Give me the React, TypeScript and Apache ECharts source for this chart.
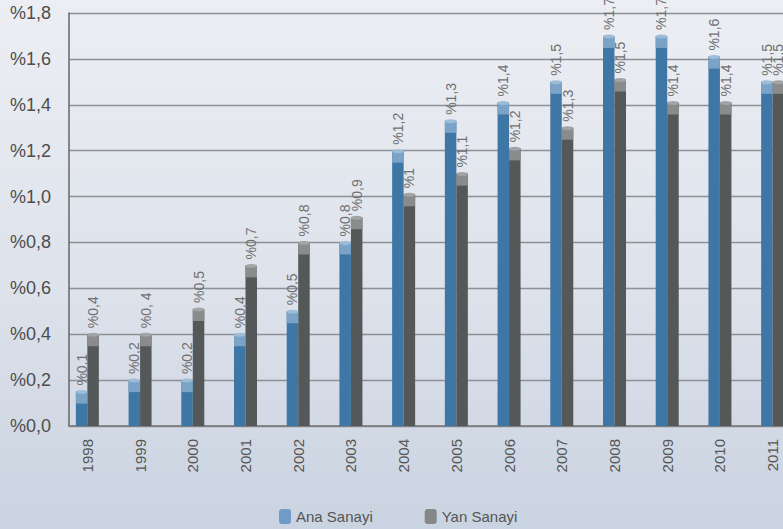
import React, { useEffect, useRef } from "react";
import * as echarts from "echarts";

const years = ["1998", "1999", "2000", "2001", "2002", "2003", "2004", "2005", "2006", "2007", "2008", "2009", "2010", "2011"];
const anaValues = [0.15, 0.2, 0.2, 0.4, 0.5, 0.8, 1.2, 1.33, 1.41, 1.5, 1.7, 1.7, 1.61, 1.5];
const yanValues = [0.4, 0.4, 0.51, 0.7, 0.8, 0.91, 1.01, 1.1, 1.21, 1.3, 1.51, 1.41, 1.41, 1.5];
const anaLabels = ["%0,1", "%0,2", "%0,2", "%0,4", "%0,5", "%0,8", "%1,2", "%1,3", "%1,4", "%1,5", "%1,7", "%1,7", "%1,6", "%1,5"];
const yanLabels = ["%0,4", "%0, 4", "%0,5", "%0,7", "%0,8", "%0,9", "%1", "%1,1", "%1,2", "%1,3", "%1,5", "%1,4", "%1,4", "%1,5"];
const yTicks = { min: 0, max: 1.8, interval: 0.2 };

const BAR_W = 11.5;
const FONT = "'Liberation Sans', Arial, sans-serif";

function capSeries(name: string, values: number[], side: number, capColor: string, topColor: string) {
  return {
    type: "custom",
    name: name + "_cap",
    xAxisIndex: 1,
    yAxisIndex: 1,
    z: 5,
    silent: true,
    data: values.map((v, i) => [i, v]),
    renderItem: (params: any, api: any) => {
      const top = api.coord([api.value(0), api.value(1)]);
      const base = api.coord([api.value(0), 0]);
      const x = side < 0 ? top[0] - BAR_W : top[0];
      const h = Math.min(12, base[1] - top[1]);
      return {
        type: "group",
        children: [
          { type: "rect", shape: { x: x, y: top[1], width: BAR_W, height: h }, style: { fill: capColor } },
          { type: "ellipse", shape: { cx: x + BAR_W / 2, cy: top[1] + 0.5, rx: BAR_W / 2, ry: 2 }, style: { fill: topColor } },
        ],
      };
    },
  };
}

export default function App() {
  const ref = useRef<HTMLDivElement>(null);
  useEffect(() => {
    if (!ref.current) return;
    const chart = echarts.init(ref.current, undefined, { renderer: "svg" });
    const labelBase = {
      show: true,
      position: "top",
      rotate: 90,
      align: "left",
      verticalAlign: "middle",
      distance: 6,
      fontSize: 14,
      color: "#707070",
      fontFamily: FONT,
    };
    chart.setOption({
      animation: false,
      grid: [
        { left: 69, right: 0, top: 13, bottom: 103, outerBoundsMode: "none", containLabel: false },
        { left: 61, width: 738, top: 13, bottom: 103, outerBoundsMode: "none", containLabel: false },
      ],
      legend: {
        left: 274,
        top: 504,
        itemWidth: 12,
        itemHeight: 15,
        itemGap: 52,
        icon: "roundRect",
        textStyle: { fontSize: 15, color: "#555", fontFamily: FONT },
        data: [
          { name: "Ana Sanayi", itemStyle: { color: "#6f9cc6" } },
          { name: "Yan Sanayi", itemStyle: { color: "#858789" } },
        ],
      },
      xAxis: [
        {
          type: "category",
          gridIndex: 0,
          data: years,
          axisLine: { lineStyle: { color: "#777", width: 1.5 } },
          axisTick: { show: false },
          axisLabel: { show: false },
        },
        {
          type: "category",
          gridIndex: 1,
          data: years,
          axisLine: { show: false },
          axisTick: { show: false },
          axisLabel: { rotate: 90, margin: 13, fontSize: 15, color: "#555", fontFamily: FONT },
        },
      ],
      yAxis: [
        {
          type: "value",
          gridIndex: 0,
          min: yTicks.min,
          max: yTicks.max,
          interval: yTicks.interval,
          axisLine: { show: true, lineStyle: { color: "#666", width: 1.5 } },
          axisTick: { show: false },
          splitLine: { lineStyle: { color: "#8d9094", width: 1.3 } },
          axisLabel: {
            margin: 18,
            fontSize: 18,
            color: "#4d4d4d",
            fontFamily: FONT,
            formatter: (v: number) => "%" + v.toFixed(1).replace(".", ","),
          },
        },
        {
          type: "value",
          gridIndex: 1,
          min: yTicks.min,
          max: yTicks.max,
          interval: yTicks.interval,
          show: false,
          splitLine: { show: false },
        },
      ],
      series: [
        {
          type: "bar",
          name: "Ana Sanayi",
          xAxisIndex: 1,
          yAxisIndex: 1,
          barWidth: BAR_W,
          barGap: "0%",
          itemStyle: { color: "#3e76a5" },
          data: anaValues.map((v, i) => ({ value: v, label: { ...labelBase, formatter: anaLabels[i] } })),
          label: labelBase,
        },
        {
          type: "bar",
          name: "Yan Sanayi",
          xAxisIndex: 1,
          yAxisIndex: 1,
          barWidth: BAR_W,
          barGap: "0%",
          itemStyle: { color: "#555859" },
          data: yanValues.map((v, i) => ({ value: v, label: { ...labelBase, formatter: yanLabels[i] } })),
          label: labelBase,
        },
        capSeries("Ana Sanayi", anaValues, -1, "#7aa3c7", "#9dbcd8"),
        capSeries("Yan Sanayi", yanValues, 1, "#8a8b8d", "#a3a4a6"),
      ],
    });
    return () => chart.dispose();
  }, []);
  return (
    <div
      ref={ref}
      style={{
        position: "fixed",
        left: 0,
        top: 0,
        width: 783,
        height: 529,
        background: "linear-gradient(to bottom, #eceef3 0%, #dde2eb 55%, #cad3e1 100%)",
      }}
    />
  );
}
